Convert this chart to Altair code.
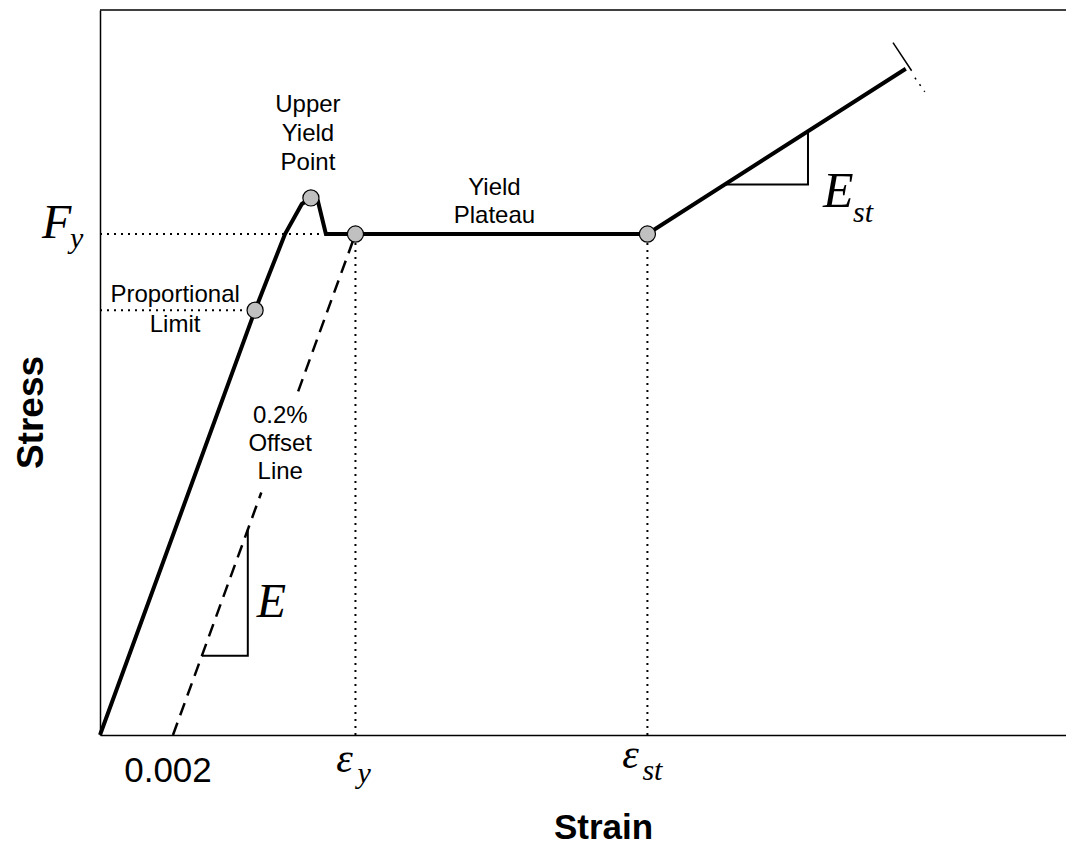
import altair as alt
import pandas as pd

# ---------------- data (strain, stress in arbitrary units, Fy = 50) ----------------
X_MAX = 0.02647
Y_MAX = 72.36

CURVE_STRAIN = [0.0, 0.00425, 0.00466, 0.00507, 0.00553, 0.00578, 0.00597, 0.00619, 0.01500, 0.02208]
CURVE_STRESS = [0.0, 42.4, 46.2, 50.0, 53.0, 53.6, 53.3, 50.0, 50.0, 66.5]

# offset line drawn in two pieces, interrupted by its label
OFFSET_STRAIN = [0.002, 0.00442, 0.00543, 0.007]
OFFSET_STRESS = [0.0, 24.2, 34.3, 50.0]
OFFSET_PIECE = [0, 0, 1, 1]

E_TRI_STRAIN = [0.00279, 0.00405, 0.00405]
E_TRI_STRESS = [7.9, 7.9, 20.5]
EST_TRI_STRAIN = [0.01712, 0.0194, 0.0194]
EST_TRI_STRESS = [54.95, 54.95, 60.2]

BREAK_SOLID_STRAIN = [0.02173, 0.02224]
BREAK_SOLID_STRESS = [69.1, 66.3]
BREAK_DOT_STRAIN = [0.02233, 0.02260]
BREAK_DOT_STRESS = [65.6, 64.2]

MARK_STRAIN = [0.00425, 0.00578, 0.007, 0.015]
MARK_STRESS = [42.4, 53.6, 50.0, 50.0]

GUIDE_X1 = [0.0, 0.0, 0.007, 0.015]
GUIDE_X2 = [0.00619, 0.0040, 0.007, 0.015]
GUIDE_Y1 = [50.0, 42.4, 0.0, 0.0]
GUIDE_Y2 = [50.0, 42.4, 50.0, 50.0]

FY = 50.0
EPS_Y = 0.007
EPS_ST = 0.015
OFFSET_STRAIN_LABEL = "0.002"
LBL_UPPER = "Upper\nYield\nPoint"
LBL_PLATEAU = "Yield\nPlateau"
LBL_PROP = "Proportional\nLimit"
LBL_OFFSET = "0.2%\nOffset\nLine"

SANS = "Liberation Sans"
SERIF = "Liberation Serif"

SX = alt.Scale(domain=[0, X_MAX], nice=False, zero=False)
SY = alt.Scale(domain=[0, Y_MAX], nice=False, zero=False)
AX = alt.Axis(title="Strain", labels=False, ticks=False, grid=False,
              domainColor="black", domainWidth=1.5,
              titleFont=SANS, titleFontSize=35, titleFontWeight="bold", titleColor="black",
              titleX=503, titleY=103, titleBaseline="alphabetic", titleAlign="center")
AY = alt.Axis(title="Stress", labels=False, ticks=False, grid=False,
              domainColor="black", domainWidth=1.5,
              titleFont=SANS, titleFontSize=37, titleFontWeight="bold", titleColor="black",
              titleX=-58, titleY=402, titleBaseline="alphabetic", titleAlign="center")


def X(f="x"):
    return alt.X(f"{f}:Q", scale=SX, axis=AX)


def Y(f="y"):
    return alt.Y(f"{f}:Q", scale=SY, axis=AY)


def df_xy(xs, ys, **extra):
    d = {"x": xs, "y": ys}
    d.update(extra)
    return pd.DataFrame(d)


layers = []

# dotted guide lines
guides = pd.DataFrame({"x": GUIDE_X1, "x2": GUIDE_X2, "y": GUIDE_Y1, "y2": GUIDE_Y2})
layers.append(alt.Chart(guides).mark_rule(color="black", strokeWidth=2, strokeDash=[2, 5], strokeCap="butt")
              .encode(x=X(), x2="x2:Q", y=Y(), y2="y2:Q"))

# offset dashed line
layers.append(alt.Chart(df_xy(OFFSET_STRAIN, OFFSET_STRESS, g=OFFSET_PIECE))
              .mark_line(color="black", strokeWidth=2.5, strokeDash=[13, 8])
              .encode(x=X(), y=Y(), detail="g:N"))

# slope triangles
tri = pd.concat([
    df_xy(E_TRI_STRAIN, E_TRI_STRESS, g=["E"] * 3, o=[0, 1, 2]),
    df_xy(EST_TRI_STRAIN, EST_TRI_STRESS, g=["Est"] * 3, o=[0, 1, 2]),
])
layers.append(alt.Chart(tri).mark_line(color="black", strokeWidth=2)
              .encode(x=X(), y=Y(), detail="g:N", order="o:Q"))

# break marks at the end of the curve
layers.append(alt.Chart(df_xy(BREAK_SOLID_STRAIN, BREAK_SOLID_STRESS)).mark_line(color="black", strokeWidth=1.5)
              .encode(x=X(), y=Y()))
layers.append(alt.Chart(df_xy(BREAK_DOT_STRAIN, BREAK_DOT_STRESS)).mark_line(color="black", strokeWidth=1.5, strokeDash=[2, 6])
              .encode(x=X(), y=Y()))

# main stress-strain curve
layers.append(alt.Chart(df_xy(CURVE_STRAIN, CURVE_STRESS, o=list(range(len(CURVE_STRAIN)))))
              .mark_line(color="black", strokeWidth=4, strokeJoin="miter")
              .encode(x=X(), y=Y(), order="o:Q"))

# key points
layers.append(alt.Chart(df_xy(MARK_STRAIN, MARK_STRESS)).mark_circle(size=260, color="#c0c0c0", opacity=1,
                                                                     stroke="black", strokeWidth=1.2)
              .encode(x=X(), y=Y()))

# top frame line
layers.append(alt.Chart(pd.DataFrame({"a": [0]})).mark_rule(color="black", strokeWidth=1.5)
              .encode(x=alt.value(0), x2=alt.value(966), y=alt.value(0)))


def text(label, x, y, dx, dy, font=SANS, size=24, align="center", italic=False, line_height=28):
    kw = dict(font=font, fontSize=size, align=align, baseline="alphabetic", dx=dx, dy=dy,
              color="black", lineBreak="\n", lineHeight=line_height)
    if italic:
        kw["fontStyle"] = "italic"
    return (alt.Chart(pd.DataFrame({"x": [x], "y": [y], "label": [label]}))
            .mark_text(**kw).encode(x=X(), y=Y(), text="label:N"))


# sans annotations
layers.append(text(LBL_UPPER, MARK_STRAIN[1], MARK_STRESS[1], -3, -86, line_height=29))
layers.append(text(LBL_PLATEAU, (EPS_Y + EPS_ST) / 2, FY, -7, -39, line_height=28))
layers.append(text(LBL_PROP, MARK_STRAIN[0], MARK_STRESS[0], -80, -8, line_height=30))
layers.append(text(LBL_OFFSET, 0.0045, 25.0, 16, -62, line_height=28))
layers.append(text(OFFSET_STRAIN_LABEL, OFFSET_STRAIN[0], 0.0, -5, 47, size=35))

# serif symbols
layers.append(text("E", E_TRI_STRAIN[1], (E_TRI_STRESS[0] + E_TRI_STRESS[2]) / 2, 9, 24,
                   font=SERIF, size=48, align="left", italic=True))
layers.append(text("E", EST_TRI_STRAIN[1], EST_TRI_STRESS[1], 15, 23, font=SERIF, size=50, align="left", italic=True))
layers.append(text("st", EST_TRI_STRAIN[1], EST_TRI_STRESS[1], 45, 38, font=SERIF, size=30, align="left", italic=True))
layers.append(text("F", 0.0, FY, -58, 4, font=SERIF, size=48, align="left", italic=True))
layers.append(text("y", 0.0, FY, -30, 14, font=SERIF, size=30, align="left", italic=True))
layers.append(text("ε", EPS_Y, 0.0, -11, 37, font=SERIF, size=42, italic=True))
layers.append(text("y", EPS_Y, 0.0, 2, 48, font=SERIF, size=30, align="left", italic=True))
layers.append(text("ε", EPS_ST, 0.0, -17, 33, font=SERIF, size=42, italic=True))
layers.append(text("st", EPS_ST, 0.0, -5, 45, font=SERIF, size=30, align="left", italic=True))

chart = (alt.layer(*layers)
         .properties(width=966, height=725,
                     autosize=alt.AutoSizeParams(type="none"),
                     padding={"left": 92, "top": 2, "right": 0, "bottom": 110},
                     background="white")
         .configure_view(stroke=None))

chart.save("out.html", embed_options={"renderer": "svg", "actions": False})
